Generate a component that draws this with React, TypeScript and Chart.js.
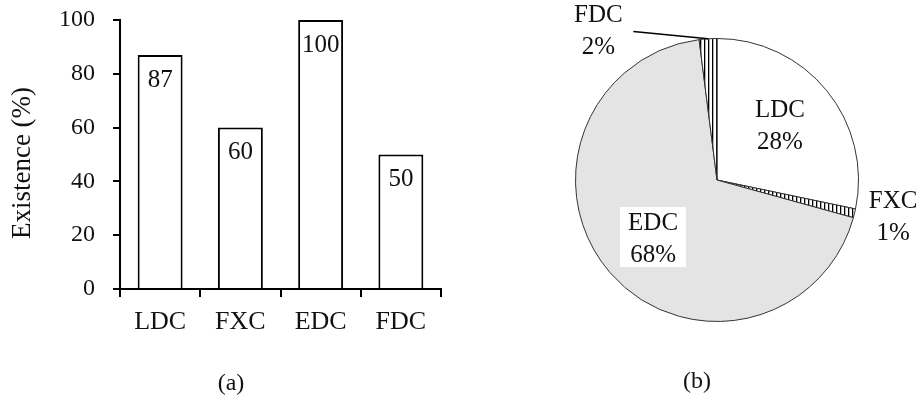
import React, { useEffect, useRef } from "react";
import { Chart, registerables } from "chart.js";

Chart.register(...registerables);

const barCategories = ["LDC", "FXC", "EDC", "FDC"];
const barValues = [87, 60, 100, 50];
const yTickStep = 20;
const yMax = 100;
const yTitle = "Existence (%)";

const pieCategories = ["LDC", "FXC", "EDC", "FDC"];
const pieValues = [28, 1, 68, 2];
const pieLabels = ["28%", "1%", "68%", "2%"];

const FONT = "'Liberation Serif', 'Times New Roman', serif";
const INK = "#111";

// label placement style for pie (radius from centre, angular shift in degrees)
const pieLabelStyle = [
  { r: 83, shift: -1.5, box: false, leader: false },
  { r: 180, shift: -1.7, box: false, leader: false },
  { r: 87, shift: -1.8, box: true, leader: false },
  { r: 190, shift: -35, box: false, leader: true },
];

function makeStripes(): CanvasPattern | string {
  const c = document.createElement("canvas");
  c.width = 4;
  c.height = 4;
  const g = c.getContext("2d");
  if (!g) return "#fff";
  g.fillStyle = "#fff";
  g.fillRect(0, 0, 4, 4);
  g.fillStyle = "#000";
  g.fillRect(0, 0, 1.3, 4);
  const p = g.createPattern(c, "repeat");
  return p || "#fff";
}

export default function App() {
  const barRef = useRef<HTMLCanvasElement>(null);
  const pieRef = useRef<HTMLCanvasElement>(null);

  useEffect(() => {
    const barLabels = {
      id: "barLabels",
      afterDatasetsDraw(chart: any) {
        const ctx = chart.ctx;
        const meta = chart.getDatasetMeta(0);
        ctx.save();
        ctx.font = `25px ${FONT}`;
        ctx.fillStyle = INK;
        ctx.textAlign = "center";
        ctx.textBaseline = "middle";
        meta.data.forEach((el: any, i: number) => {
          ctx.fillText(String(barValues[i]), el.x, el.y + 25);
        });
        ctx.font = `24px ${FONT}`;
        ctx.fillText("(a)", 231, 384);
        // y-axis title
        ctx.save();
        ctx.translate(23, 163);
        ctx.rotate(-Math.PI / 2);
        ctx.font = `27px ${FONT}`;
        ctx.fillText(yTitle, 0, 0);
        ctx.restore();
        ctx.restore();
      },
    };

    const bar = new Chart(barRef.current!, {
      type: "bar",
      data: {
        labels: barCategories,
        datasets: [
          {
            data: barValues,
            backgroundColor: "#fff",
            borderColor: "#000",
            borderWidth: 2,
            borderSkipped: "start",
            barPercentage: 0.56,
            categoryPercentage: 1,
          },
        ],
      },
      options: {
        animation: false,
        responsive: false,
        devicePixelRatio: 1,
        layout: { padding: { left: 7, top: 20, right: 19, bottom: 0 } },
        plugins: { legend: { display: false }, tooltip: { enabled: false } },
        scales: {
          x: {
            grid: {
              offset: true,
              drawOnChartArea: false,
              drawTicks: true,
              tickLength: 8,
              color: "#000",
              lineWidth: 2,
            },
            border: { display: true, color: "#000", width: 2 },
            ticks: { font: { family: FONT, size: 26 }, color: INK, padding: 10 },
            afterFit: (s: any) => {
              s.height = 112;
              s.paddingLeft = 0;
              s.paddingRight = 0;
            },
          },
          y: {
            min: 0,
            max: yMax,
            ticks: {
              stepSize: yTickStep,
              font: { family: FONT, size: 24 },
              color: INK,
              padding: 18,
            },
            grid: {
              drawOnChartArea: false,
              drawTicks: true,
              tickLength: 7,
              color: "#000",
              lineWidth: 2,
            },
            border: { display: true, color: "#000", width: 2 },
            title: { display: false },
            afterFit: (s: any) => {
              s.width = 113;
              s.paddingTop = 0;
              s.paddingBottom = 0;
            },
          },
        },
      },
      plugins: [barLabels],
    } as any);

    const stripes = makeStripes();

    const pieText = {
      id: "pieText",
      afterDatasetsDraw(chart: any) {
        const ctx = chart.ctx;
        const meta = chart.getDatasetMeta(0);
        ctx.save();
        ctx.font = `25px ${FONT}`;
        ctx.textAlign = "center";
        ctx.textBaseline = "middle";
        meta.data.forEach((el: any, i: number) => {
          const st = pieLabelStyle[i];
          const mid = (el.startAngle + el.endAngle) / 2;
          const a = mid + (st.shift * Math.PI) / 180;
          const lx = el.x + st.r * Math.cos(a);
          const ly = el.y + st.r * Math.sin(a);
          if (st.box) {
            ctx.fillStyle = "#fff";
            ctx.fillRect(lx - 33, ly - 32, 66, 60);
          }
          if (st.leader) {
            ctx.strokeStyle = "#000";
            ctx.lineWidth = 1.5;
            ctx.beginPath();
            ctx.moveTo(lx + 35, ly);
            ctx.lineTo(
              el.x + el.outerRadius * Math.cos(mid),
              el.y + el.outerRadius * Math.sin(mid)
            );
            ctx.stroke();
          }
          ctx.fillStyle = INK;
          ctx.fillText(pieCategories[i], lx, ly - 16);
          ctx.fillText(pieLabels[i], lx, ly + 16);
        });
        ctx.font = `24px ${FONT}`;
        ctx.fillText("(b)", 697 - 460, 382);
        ctx.restore();
      },
    };

    const pie = new Chart(pieRef.current!, {
      type: "pie",
      data: {
        labels: pieCategories,
        datasets: [
          {
            data: pieValues,
            backgroundColor: ["#fff", stripes, "#e4e4e4", stripes],
            borderColor: "#333",
            borderWidth: 1,
          },
        ],
      },
      options: {
        animation: false,
        responsive: false,
        devicePixelRatio: 1,
        layout: { padding: { left: 115, right: 62, top: 38, bottom: 79 } },
        plugins: { legend: { display: false }, tooltip: { enabled: false } },
      },
      plugins: [pieText],
    } as any);

    return () => {
      bar.destroy();
      pie.destroy();
    };
  }, []);

  return (
    <div
      style={{
        position: "absolute",
        left: 0,
        top: 0,
        width: 921,
        height: 401,
        background: "#fff",
      }}
    >
      <canvas
        ref={barRef}
        width={460}
        height={401}
        style={{ position: "absolute", left: 0, top: 0, width: 460, height: 401 }}
      />
      <canvas
        ref={pieRef}
        width={461}
        height={401}
        style={{ position: "absolute", left: 460, top: 0, width: 461, height: 401 }}
      />
    </div>
  );
}
